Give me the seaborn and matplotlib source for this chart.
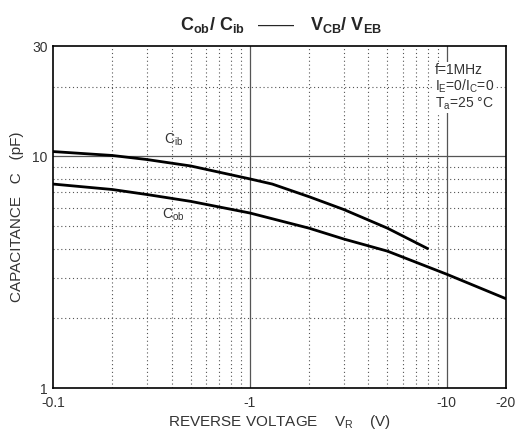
import matplotlib
matplotlib.use("Agg")
import matplotlib.pyplot as plt
import seaborn as sns
import pandas as pd

# values (V in volts, C in pF)
v_ib = [0.1, 0.2, 0.3, 0.5, 1, 1.3, 2, 3, 5, 8]
c_ib = [10.5, 10.1, 9.7, 9.1, 8.0, 7.6, 6.7, 5.9, 4.9, 4.0]
v_ob = [0.1, 0.2, 0.3, 0.5, 1, 2, 3, 5, 10, 20]
c_ob = [7.6, 7.2, 6.85, 6.4, 5.7, 4.9, 4.4, 3.9, 3.1, 2.43]

x_ticks = [0.1, 1, 10, 20]
x_labels = ["-0.1", "-1", "-10", "-20"]
y_ticks = [1, 10, 30]
y_labels = ["1", "10", "30"]

sns.set_style("white")
plt.rcParams['font.family'] = ['Liberation Sans', 'DejaVu Sans']
plt.rcParams['mathtext.default'] = 'regular'

df = pd.concat([
    pd.DataFrame({'V': v_ib, 'C': c_ib, 'curve': 'Cib'}),
    pd.DataFrame({'V': v_ob, 'C': c_ob, 'curve': 'Cob'}),
])

fig = plt.figure(figsize=(5.16, 4.36), dpi=100)
ax = fig.add_axes([53 / 516, 1 - 388 / 436, 453 / 516, 342 / 436])

ax.set_xscale('log')
ax.set_yscale('log')
ax.set_xlim(0.1, 20)
ax.set_ylim(1, 30)

# grid: minor dotted lines only inside the 0.1-10 decades
minor_x = [m * d for d in (0.1, 1) for m in range(2, 10)]
minor_y = [m for m in range(2, 10)] + [20]
for xv in minor_x:
    ax.axvline(xv, color='#555555', lw=0.8, ls=(0, (1, 2.5)), zorder=1)
for yv in minor_y:
    ax.axhline(yv, color='#555555', lw=0.8, ls=(0, (1, 2.5)), zorder=1)
for xv in (1, 10):
    ax.axvline(xv, color='#555555', lw=0.9, zorder=1)
ax.axhline(10, color='#555555', lw=0.9, zorder=1)

sns.lineplot(data=df, x='V', y='C', units='curve', estimator=None,
             color='black', lw=2.0, sort=False, ax=ax, legend=False, zorder=3)

ax.set_xticks(x_ticks)
ax.set_xticklabels(x_labels)
ax.set_yticks(y_ticks)
ax.set_yticklabels(y_labels)
ax.set_xticks([], minor=True)
ax.set_yticks([], minor=True)
ax.tick_params(axis='both', which='major', length=0, labelsize=10,
               labelcolor='#333333')
ax.tick_params(axis='x', pad=6)
ax.tick_params(axis='y', pad=4)

for s in ax.spines.values():
    s.set_color('black')
    s.set_linewidth(1.2)

ax.set_xlabel("REVERSE VOLTAGE    V$_{R}$    (V)", fontsize=11,
              color='#333333', labelpad=2)
ax.set_ylabel("CAPACITANCE   C   (pF)", fontsize=11, color='#333333',
              labelpad=6)

ax.text(0.41, 11.8, "C$_{ib}$", fontsize=10, color='#333333',
        ha='center', va='center')
ax.text(0.41, 5.6, "C$_{ob}$", fontsize=10, color='#333333',
        ha='center', va='center', zorder=4)

box = dict(fc='white', ec='none', pad=1.0)
ax.text(8.7, 23.6, "f=1MHz", fontsize=10, color='#333333', ha='left',
        va='center', bbox=box, zorder=5)
ax.text(8.7, 20.0, "I$_{E}$=0/I$_{C}$=0", fontsize=10, color='#333333',
        ha='left', va='center', bbox=box, zorder=5)
ax.text(8.7, 16.9, "T$_{a}$=25 °C", fontsize=10, color='#333333', ha='left',
        va='center', bbox=box, zorder=5)

fig.text(212 / 516, 1 - 30 / 436, "C$_{ob}$/ C$_{ib}$", ha='center',
         va='baseline', fontsize=13, fontweight='bold')
fig.text(276 / 516, 1 - 30 / 436, "——", ha='center', va='baseline',
         fontsize=13)
fig.text(346 / 516, 1 - 30 / 436, "V$_{CB}$/ V$_{EB}$", ha='center',
         va='baseline', fontsize=13, fontweight='bold')

fig.savefig("out.png", dpi=100, facecolor='white')
